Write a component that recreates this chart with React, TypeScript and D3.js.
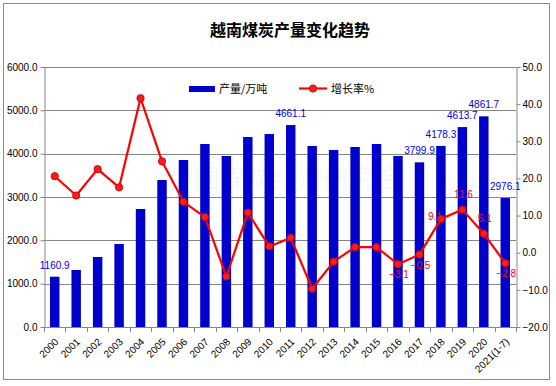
import React, { useEffect, useRef } from 'react';
import * as d3 from 'd3';

const years = ['2000', '2001', '2002', '2003', '2004', '2005', '2006', '2007', '2008', '2009', '2010',
  '2011', '2012', '2013', '2014', '2015', '2016', '2017', '2018', '2019', '2020', '2021(1-7)'];
const output = [1160.9, 1315, 1615, 1915, 2723, 3392, 3854, 4223, 3946, 4385, 4454,
  4661.1, 4177, 4085, 4154, 4223, 3946, 3799.9, 4178.3, 4613.7, 4861.7, 2976.1];
const growth = [20.6, 15.4, 22.5, 17.6, 41.6, 24.6, 13.7, 9.6, -6.4, 10.8, 1.7,
  4.0, -9.7, -2.4, 1.5, 1.5, -3.1, -0.5, 9.1, 11.6, 5.1, -2.8];
const leftTicks = [0, 1000, 2000, 3000, 4000, 5000, 6000];
const rightTicks = [-20, -10, 0, 10, 20, 30, 40, 50];
const barLabelYears = ['2000', '2011', '2017', '2018', '2019', '2020', '2021(1-7)'];
const rateLabelYears = ['2016', '2017', '2018', '2019', '2020', '2021(1-7)'];

// where the red labels sit relative to their point
const ratePlace: Record<string, string> = {
  '2016': 'below', '2017': 'below', '2018': 'left', '2019': 'above', '2020': 'above', '2021(1-7)': 'below'
};

const W = 556;
const H = 386;
const font = '"Liberation Sans", Arial, sans-serif';
const cjk = '"Noto Sans CJK SC", sans-serif';

const App = () => {
  const ref = useRef<SVGSVGElement>(null);

  useEffect(() => {
    const svg = d3.select(ref.current);
    svg.selectAll('*').remove();

    const left = 44, right = 516, top = 67, bottom = 327;

    const x = d3.scaleBand().domain(years).range([left, right]).paddingInner(0.56).paddingOuter(0.28);
    const yL = d3.scaleLinear().domain([0, 6000]).range([bottom, top]);
    const yR = d3.scaleLinear().domain([-20, 50]).range([bottom, top]);
    const cx = (d: string) => (x(d) as number) + x.bandwidth() / 2;

    svg.append('rect').attr('width', W).attr('height', H).attr('fill', '#fff');
    svg.append('rect')
      .attr('x', 3.5).attr('y', 3.5).attr('width', 546).attr('height', 376)
      .attr('fill', 'none').attr('stroke', '#8c8c8c');

    svg.append('text')
      .attr('x', 290).attr('y', 36)
      .attr('text-anchor', 'middle')
      .attr('font-family', cjk).attr('font-weight', 'bold').attr('font-size', 16)
      .text('越南煤炭产量变化趋势');

    // gridlines
    svg.append('g').selectAll('line')
      .data(leftTicks.filter(d => d > 0))
      .enter().append('line')
      .attr('x1', left).attr('x2', right)
      .attr('y1', d => Math.round(yL(d)) + 0.5).attr('y2', d => Math.round(yL(d)) + 0.5)
      .attr('stroke', '#868686');

    // watermark
    svg.append('text')
      .attr('x', 285).attr('y', 188).attr('text-anchor', 'middle')
      .attr('font-family', cjk).attr('font-size', 26)
      .attr('fill', '#e8e8e8').attr('fill-opacity', 0.35)
      .text('中国煤炭经济研究会');

    // bars
    svg.append('g').selectAll('rect')
      .data(years)
      .enter().append('rect')
      .attr('x', d => x(d) as number)
      .attr('y', (d, i) => yL(output[i]))
      .attr('width', x.bandwidth())
      .attr('height', (d, i) => bottom - yL(output[i]))
      .attr('fill', '#0000cc');

    // axes
    const styleAxis = (g: any) => {
      g.select('.domain').attr('stroke', '#868686');
      g.selectAll('.tick line').attr('stroke', '#868686');
      g.selectAll('.tick text').attr('fill', '#000').attr('font-family', font).attr('font-size', 10);
    };

    svg.append('g')
      .attr('transform', `translate(${left + 0.5},0)`)
      .call(d3.axisLeft(yL).tickValues(leftTicks).tickFormat(d3.format('.1f')).tickSize(4).tickSizeOuter(0).tickPadding(3))
      .call(styleAxis);

    svg.append('g')
      .attr('transform', `translate(${right + 0.5},0)`)
      .call(d3.axisRight(yR).tickValues(rightTicks).tickFormat(d3.format('.1f')).tickSize(4).tickSizeOuter(0).tickPadding(2))
      .call(styleAxis);

    // category axis
    const xa = svg.append('g');
    xa.append('line')
      .attr('x1', left).attr('x2', right)
      .attr('y1', bottom + 0.5).attr('y2', bottom + 0.5)
      .attr('stroke', '#868686');
    const bounds = years.map(d => cx(d) - x.step() / 2).concat([cx(years[years.length - 1]) + x.step() / 2]);
    xa.selectAll('line.tk')
      .data(bounds)
      .enter().append('line')
      .attr('class', 'tk')
      .attr('x1', d => Math.round(d) + 0.5).attr('x2', d => Math.round(d) + 0.5)
      .attr('y1', bottom).attr('y2', bottom + 5)
      .attr('stroke', '#868686');
    xa.selectAll('text')
      .data(years)
      .enter().append('text')
      .attr('transform', d => `translate(${cx(d) + 2},${bottom + 13}) rotate(-45)`)
      .attr('text-anchor', 'end')
      .attr('dy', '0.35em')
      .attr('font-family', font).attr('font-size', 10)
      .text(d => d);

    // growth line
    const line = d3.line<number>()
      .x((d, i) => cx(years[i]))
      .y(d => yR(d));
    svg.append('path')
      .datum(growth)
      .attr('d', line)
      .attr('fill', 'none')
      .attr('stroke', '#ff0000')
      .attr('stroke-width', 2.2)
      .attr('stroke-linejoin', 'round');
    svg.append('g').selectAll('circle')
      .data(growth)
      .enter().append('circle')
      .attr('cx', (d, i) => cx(years[i]))
      .attr('cy', d => yR(d))
      .attr('r', 3.6)
      .attr('fill', '#f02020')
      .attr('stroke', '#e00000');

    // bar labels
    svg.append('g').selectAll('text')
      .data(barLabelYears)
      .enter().append('text')
      .attr('x', d => cx(d))
      .attr('y', d => yL(output[years.indexOf(d)]) - 8)
      .attr('text-anchor', 'middle')
      .attr('font-family', font).attr('font-size', 10)
      .attr('fill', '#0000ee')
      .text(d => d3.format('.1f')(output[years.indexOf(d)]));

    // rate labels
    svg.append('g').selectAll('text')
      .data(rateLabelYears)
      .enter().append('text')
      .attr('x', d => ratePlace[d] === 'left' ? cx(d) + 1 : cx(d) + 1)
      .attr('y', d => {
        const py = yR(growth[years.indexOf(d)]);
        if (ratePlace[d] === 'above') return py - 12;
        if (ratePlace[d] === 'below') return py + 14;
        return py + 1;
      })
      .attr('text-anchor', d => ratePlace[d] === 'left' ? 'end' : 'middle')
      .attr('font-family', font).attr('font-size', 10)
      .attr('fill', '#ff0000')
      .text(d => d3.format('.1f')(growth[years.indexOf(d)]));

    // legend
    const lg = svg.append('g');
    lg.append('rect').attr('x', 189).attr('y', 86).attr('width', 26).attr('height', 6).attr('fill', '#0000cc');
    lg.append('text').attr('x', 219).attr('y', 92.5)
      .attr('font-family', cjk).attr('font-size', 11).text('产量/万吨');
    lg.append('line').attr('x1', 299).attr('x2', 327).attr('y1', 88.5).attr('y2', 88.5)
      .attr('stroke', '#ff0000').attr('stroke-width', 2.2);
    lg.append('circle').attr('cx', 313).attr('cy', 88.5).attr('r', 3.6)
      .attr('fill', '#f02020').attr('stroke', '#e00000');
    lg.append('text').attr('x', 331).attr('y', 92.5)
      .attr('font-family', cjk).attr('font-size', 11).text('增长率%');
  }, []);

  return (
    <svg ref={ref} width={W} height={H} style={{ position: 'absolute', left: 0, top: 0 }} />
  );
};

export default App;
